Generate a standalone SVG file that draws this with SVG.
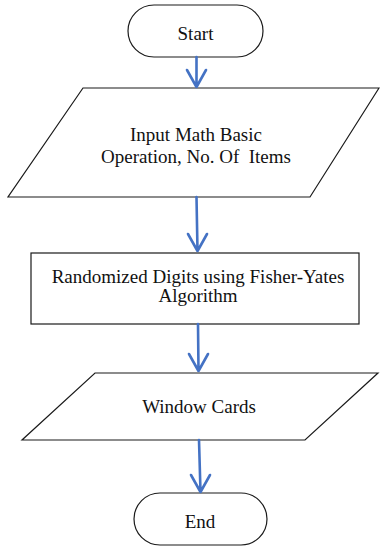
<svg xmlns="http://www.w3.org/2000/svg" width="380" height="546" viewBox="0 0 380 546">
  <style>
    .shape { fill: #ffffff; stroke: #1a1a1a; stroke-width: 1.2; }
    .label { font-family: "Liberation Serif", "Times New Roman", serif; font-size: 19px; fill: #111111; text-anchor: middle; white-space: pre; }
    .flow { fill: none; stroke: #4472C4; stroke-width: 2.6; stroke-linecap: round; stroke-linejoin: round; }
  </style>
  <rect width="380" height="546" fill="#ffffff"/>

  <g id="start">
    <rect class="shape" x="128" y="5" width="135" height="52" rx="26" ry="26"/>
    <text class="label" x="195.5" y="40">Start</text>
  </g>

  <g id="input">
    <polygon class="shape" points="83,88 379,88 310,197 8,197"/>
    <text class="label" x="196" y="141">Input Math Basic</text>
    <text class="label" x="196" y="163" xml:space="preserve">Operation, No. Of  Items</text>
  </g>

  <g id="randomize">
    <rect class="shape" x="31" y="253" width="328" height="71"/>
    <text class="label" x="198" y="283">Randomized Digits using Fisher-Yates</text>
    <text class="label" x="198" y="302">Algorithm</text>
  </g>

  <g id="output">
    <polygon class="shape" points="95,373 378,373 305,440 22,440"/>
    <text class="label" x="199" y="413">Window Cards</text>
  </g>

  <g id="end">
    <rect class="shape" x="134" y="493" width="133" height="52" rx="26" ry="26"/>
    <text class="label" x="200" y="528">End</text>
  </g>

  <g id="connectors">
    <path class="flow" d="M196.5,57 L196.5,87 M187,70 L196.5,87 L206,70"/>
    <path class="flow" d="M196.5,197 L197.5,251 M188,234 L197.5,251 L207,234"/>
    <path class="flow" d="M198,324 L198.5,371 M189,354 L198.5,371 L208,354"/>
    <path class="flow" d="M199,440 L200.5,492 M191,475 L200.5,492 L210,475"/>
  </g>
</svg>
